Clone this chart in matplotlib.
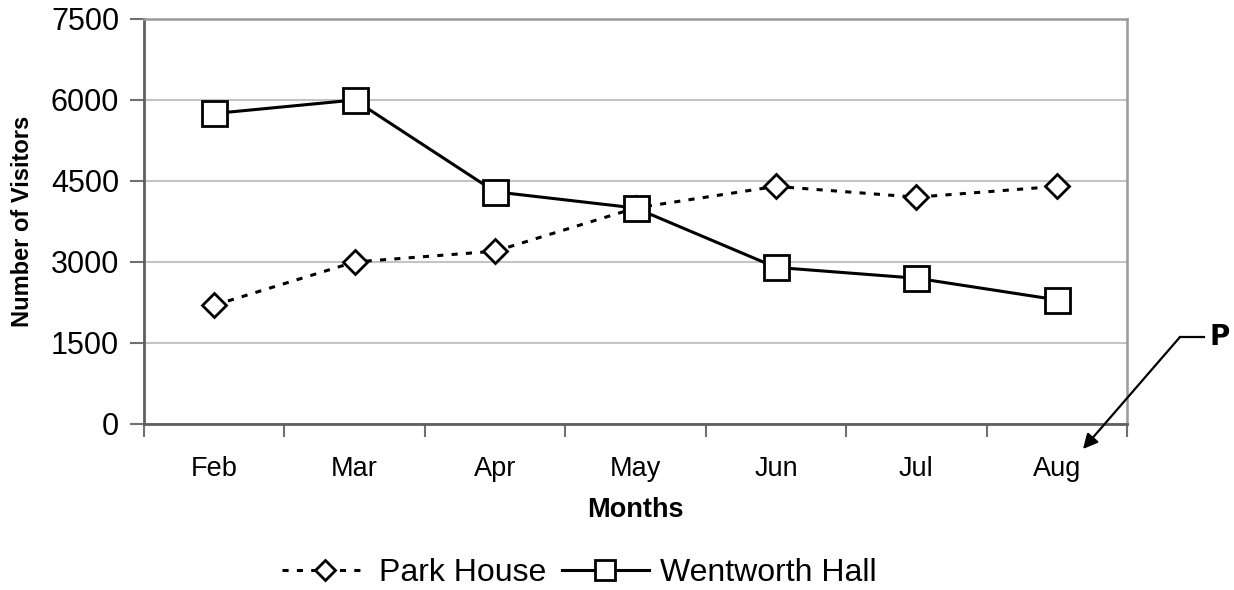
import numpy as np
import matplotlib.pyplot as plt
from matplotlib.lines import Line2D

plt.rcParams['font.family'] = ['Liberation Sans', 'DejaVu Sans']

# visitor counts per month
months = ['Feb', 'Mar', 'Apr', 'May', 'Jun', 'Jul', 'Aug']
park_house = [2200, 3000, 3200, 4000, 4400, 4200, 4400]
wentworth_hall = [5750, 6000, 4300, 4000, 2900, 2700, 2300]
y_ticks = [0, 1500, 3000, 4500, 6000, 7500]

fig = plt.figure(figsize=(12.34, 5.90), dpi=100)
ax = fig.add_axes([0.1167, 0.2814, 0.7966, 0.6864])

x = np.arange(len(months))

ax.plot(x, park_house, color='black', lw=2.2, linestyle=(0, (2.0, 2.7)),
        marker='D', markersize=12.5, markerfacecolor='white',
        markeredgecolor='black', markeredgewidth=2.0, label='Park House', zorder=3)
ax.plot(x, wentworth_hall, color='black', lw=2.2, linestyle='-',
        marker='s', markersize=18, markerfacecolor='white',
        markeredgecolor='black', markeredgewidth=2.0, label='Wentworth Hall', zorder=4)

ax.set_xlim(-0.5, len(months) - 0.5)
ax.set_ylim(0, 7500)
ax.set_yticks(y_ticks)
ax.set_yticklabels([str(v) for v in y_ticks], fontsize=22)

# category labels centred, tick marks between categories
ax.set_xticks(x)
ax.set_xticklabels(months, fontsize=19.5)
ax.tick_params(axis='x', which='major', length=0, pad=23)
ax.set_xticks(np.arange(len(months) + 1) - 0.5, minor=True)
ax.tick_params(axis='x', which='minor', length=9, width=1.5, color='#707070', direction='out')
ax.tick_params(axis='y', length=10, width=1.5, color='#707070', direction='out', pad=8)

ax.yaxis.grid(True, color='#c4c4c4', lw=1.5)
ax.set_axisbelow(True)

for side in ['left', 'bottom']:
    ax.spines[side].set_color('#606060')
    ax.spines[side].set_linewidth(2.0)
for side in ['top', 'right']:
    ax.spines[side].set_color('#9a9a9a')
    ax.spines[side].set_linewidth(1.8)

ax.set_xlabel('Months', fontsize=19.5, fontweight='bold')
ax.xaxis.set_label_coords(0.5, -(510 - 424) / 405)
ax.xaxis.label.set_va('center')
ax.set_ylabel('Number of Visitors', fontsize=17, fontweight='bold')
ax.yaxis.set_label_coords(-(144 - 22) / 983, 0.5)
ax.yaxis.label.set_va('center')

fig.legend(loc='center', bbox_to_anchor=(579 / 1234, 1 - 573 / 590), ncol=2,
           frameon=False, fontsize=23, handlelength=2.7, columnspacing=0.5,
           handletextpad=0.35, borderaxespad=0, markerscale=0.8)

# callout "P" pointing at the last category label
fig.add_artist(Line2D([1180 / 1234, 1204 / 1234], [1 - 337 / 590, 1 - 337 / 590],
                      color='black', lw=1.6, transform=fig.transFigure))
fig.add_artist(plt.Annotation('', xy=(1083 / 1234, 1 - 449 / 590),
                              xytext=(1180 / 1234, 1 - 337 / 590),
                              xycoords='figure fraction', textcoords='figure fraction',
                              arrowprops=dict(arrowstyle='-|>', color='black', lw=1.6,
                                              mutation_scale=22, shrinkA=0, shrinkB=0)))
fig.text(1220 / 1234, 1 - 337 / 590, 'P', fontsize=20, fontweight='bold',
         ha='center', va='center', family='DejaVu Sans')

fig.savefig('out.png', dpi=100)
